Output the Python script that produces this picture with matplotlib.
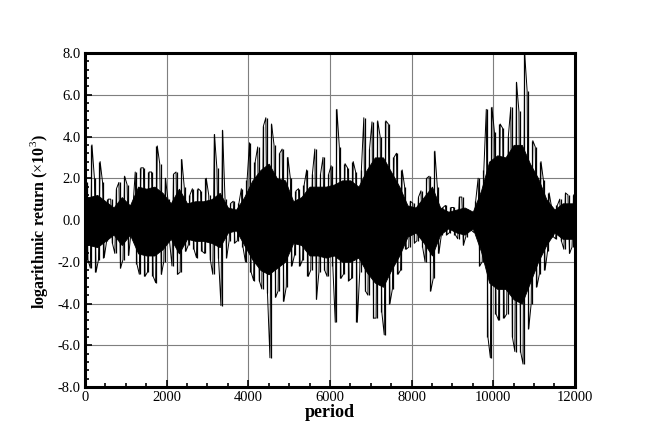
import numpy as np
import matplotlib
matplotlib.use("Agg")
import matplotlib.pyplot as plt
from matplotlib.ticker import MultipleLocator, FormatStrFormatter

# ---- data (x10^3 logarithmic returns) ----
# extreme high / low of the series in consecutive 100-period bins (0..12000)
bin_hi = [1.8, 3.6, 2.0, 2.8, 1.8, 1.0, 1.0, 1.5, 1.8, 2.1,
          1.7, 0.5, 2.3, 2.5, 2.5, 2.3, 2.3, 3.55, 2.7, 2.0,
          1.0, 2.2, 2.3, 2.9, 1.6, 1.2, 1.5, 1.5, 1.4, 2.0,
          1.2, 4.1, 2.5, 4.3, 1.0, 0.8, 0.9, 0.8, 1.5, 1.9,
          3.7, 2.8, 3.5, 4.5, 4.9, 4.6, 3.6, 3.2, 3.4, 3.0,
          2.0, 1.4, 1.5, 1.7, 2.4, 2.2, 3.4, 2.2, 3.0, 2.2,
          2.6, 5.3, 3.5, 2.7, 2.5, 2.8, 2.3, 2.4, 4.9, 3.4,
          4.7, 4.75, 4.0, 4.75, 4.6, 3.0, 3.2, 2.4, 1.6, 0.9,
          0.8, 1.1, 1.4, 2.0, 2.1, 3.3, 1.6, 0.6, 0.7, 0.6,
          0.6, 1.1, 1.1, 0.5, 0.4, 0.9, 2.0, 2.4, 5.3, 5.4,
          4.2, 4.6, 4.4, 4.0, 5.4, 6.6, 5.2, 8.0, 6.2, 3.8,
          3.5, 2.8, 1.9, 1.3, 0.6, 0.7, 1.0, 1.3, 1.2, 1.2]
bin_lo = [-1.9, -2.3, -2.5, -1.9, -1.8, -1.0, -1.1, -1.6, -2.3, -1.9,
          -1.7, -0.5, -2.1, -2.6, -2.7, -2.5, -2.7, -3.0, -2.6, -2.0,
          -1.0, -2.2, -2.6, -2.5, -1.5, -1.2, -1.4, -1.8, -1.5, -1.6,
          -1.9, -2.6, -1.8, -4.1, -1.8, -1.0, -1.1, -1.0, -1.3, -2.0,
          -2.5, -2.9, -2.9, -3.3, -3.5, -6.6, -3.7, -3.4, -3.9, -3.2,
          -2.2, -1.7, -2.2, -1.9, -2.7, -2.4, -3.8, -2.5, -2.4, -2.7,
          -2.2, -4.9, -2.8, -2.6, -2.9, -2.8, -4.9, -2.5, -3.4, -3.6,
          -4.7, -4.7, -4.4, -5.5, -4.0, -3.3, -2.6, -2.4, -1.4, -1.3,
          -1.1, -1.0, -1.3, -2.0, -3.4, -2.8, -1.6, -0.7, -0.7, -0.6,
          -0.7, -0.9, -1.2, -0.8, -0.5, -0.6, -2.2, -2.0, -5.6, -6.6,
          -4.5, -4.8, -4.7, -4.5, -5.6, -6.3, -6.3, -6.9, -5.2, -4.0,
          -3.2, -2.6, -2.4, -1.5, -0.8, -0.9, -1.0, -1.4, -1.6, -1.3]
# dense core band of the series in consecutive 200-period bins
core_hi = [1.1, 1.2, 0.9, 0.6, 1.1, 0.7, 1.6, 1.5, 1.6, 1.3,
           0.8, 1.5, 0.8, 0.9, 0.9, 1.0, 1.3, 0.6, 0.5, 1.1,
           1.9, 2.4, 2.7, 2.0, 1.9, 0.9, 1.1, 1.6, 1.6, 1.6,
           1.7, 1.9, 1.9, 1.6, 2.4, 3.0, 3.0, 2.3, 1.6, 0.7,
           0.6, 1.1, 1.6, 0.6, 0.4, 0.5, 0.6, 0.4, 1.4, 2.8,
           3.1, 3.0, 3.6, 3.6, 2.7, 2.0, 1.0, 0.5, 0.8, 0.8]
core_lo = [-1.2, -1.3, -1.0, -0.7, -1.2, -0.7, -1.6, -1.7, -1.7, -1.4,
           -0.9, -1.6, -0.9, -1.0, -1.0, -1.1, -1.3, -0.6, -0.5, -1.2,
           -1.9, -2.4, -2.6, -2.3, -2.0, -1.1, -1.2, -1.7, -1.7, -1.8,
           -1.7, -2.0, -2.0, -1.8, -2.5, -3.0, -3.2, -2.4, -1.7, -0.8,
           -0.6, -1.1, -1.7, -0.7, -0.4, -0.6, -0.7, -0.4, -1.5, -3.0,
           -3.3, -3.3, -3.8, -4.0, -3.0, -2.0, -1.2, -0.6, -0.9, -0.9]

xticks = [0, 2000, 4000, 6000, 8000, 10000, 12000]
yticks = [-8.0, -6.0, -4.0, -2.0, 0.0, 2.0, 4.0, 6.0, 8.0]

SERIF = ["Liberation Serif", "DejaVu Serif"]
plt.rcParams["font.family"] = SERIF
plt.rcParams["mathtext.fontset"] = "custom"
plt.rcParams["mathtext.rm"] = "Liberation Serif"
plt.rcParams["mathtext.bf"] = "Liberation Serif:bold"

fig = plt.figure(figsize=(6.54, 4.37), dpi=100)
ax = fig.add_axes([0.130, 0.1144, 0.749, 0.7643])

nb = len(bin_hi)
bw = 12000 / nb
# trace through the bin extremes, alternating high and low
xs, ys = [], []
for i in range(nb):
    xs += [i * bw + 0.3 * bw, i * bw + 0.7 * bw]
    if i % 2 == 0:
        ys += [bin_hi[i], bin_lo[i]]
    else:
        ys += [bin_lo[i], bin_hi[i]]
ax.plot(xs, ys, color="black", lw=0.7, zorder=3)
ax.vlines([i * bw + 0.5 * bw for i in range(nb)], bin_lo, bin_hi,
          color="black", lw=0.9, zorder=3)

nc = len(core_hi)
cw = 12000 / nc
cx = [0] + [i * cw + 0.5 * cw for i in range(nc)] + [12000]
ax.fill_between(cx, [core_lo[0]] + core_lo + [core_lo[-1]],
                [core_hi[0]] + core_hi + [core_hi[-1]],
                color="black", lw=0.6, edgecolor="black", zorder=2)

ax.set_xlim(0, 12000)
ax.set_ylim(-8.0, 8.0)
ax.set_xticks(xticks)
ax.set_yticks(yticks)
ax.yaxis.set_major_formatter(FormatStrFormatter("%.1f"))
ax.xaxis.set_minor_locator(MultipleLocator(500))
ax.yaxis.set_minor_locator(MultipleLocator(0.4))
ax.tick_params(axis="both", which="both", direction="in", top=False, right=False,
               labelsize=10.5, width=1.2, pad=3)
ax.tick_params(which="major", length=5)
ax.tick_params(which="minor", length=3)
ax.grid(True, which="major", color="#7f7f7f", lw=0.8)
ax.set_axisbelow(True)
for s in ax.spines.values():
    s.set_linewidth(2.2)

ax.set_xlabel("period", fontsize=13, fontweight="bold", labelpad=0)
ax.set_ylabel(r"logarithmic return ($\times$10$^3$)", fontsize=11.5,
              fontweight="bold")
ax.yaxis.set_label_coords(-0.071, 0.494)

fig.savefig("out.png", dpi=100)
